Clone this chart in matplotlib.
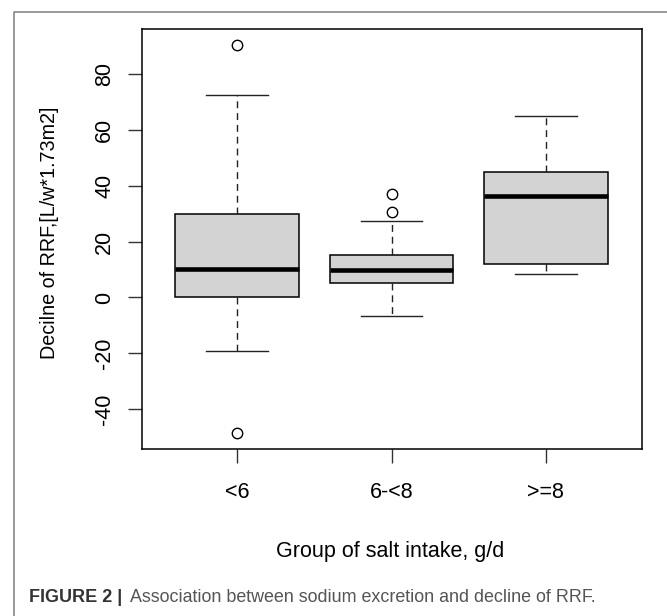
import matplotlib
matplotlib.use('Agg')
import matplotlib.pyplot as plt
from matplotlib.lines import Line2D

plt.rcParams['font.family'] = ['Liberation Sans', 'DejaVu Sans']
plt.rcParams['axes.unicode_minus'] = False

# values
groups = ['<6', '6-<8', '>=8']
whislo = [-19.0, -6.8, 8.4]
q1 = [0.3, 5.35, 11.8]
medians = [10.0, 9.75, 36.1]
q3 = [30.0, 15.1, 44.9]
whishi = [72.4, 27.2, 64.9]
fliers = [[90.4, -48.6], [30.6, 36.9], []]
yticks = [-40, -20, 0, 20, 40, 60, 80]

stats = []
for i in range(len(groups)):
    stats.append(dict(label=groups[i], whislo=whislo[i], q1=q1[i], med=medians[i],
                      q3=q3[i], whishi=whishi[i], fliers=fliers[i]))

fig = plt.figure(figsize=(6.67, 6.16), dpi=100)
W, H = 667, 616
ax = fig.add_axes([141.5 / W, 1 - 449 / H, 500 / W, 420 / H])

ax.bxp(stats, positions=[1, 2, 3], widths=0.8, patch_artist=True,
       boxprops=dict(facecolor='#d3d3d3', edgecolor='black', linewidth=1.1),
       medianprops=dict(color='black', linewidth=3.3, solid_capstyle='butt'),
       whiskerprops=dict(color='#222222', linewidth=1.0, linestyle=(0, (5, 3.5))),
       capprops=dict(color='#222222', linewidth=1.0),
       capwidths=0.4,
       flierprops=dict(marker='o', markerfacecolor='none', markeredgecolor='black',
                       markersize=7.5, markeredgewidth=1.0))

ax.set_xlim(0.38, 3.62)
lo = min(min(whislo), min(min(f) for f in fliers if f))
hi = max(max(whishi), max(max(f) for f in fliers if f))
pad = (hi - lo) * 0.04
ax.set_ylim(lo - pad, hi + pad)
ax.set_yticks(yticks)
ax.set_xticks([1, 2, 3])
ax.set_xticklabels(groups)
for lab in ax.get_yticklabels():
    lab.set_rotation(90)
    lab.set_va('center')
ax.tick_params(axis='both', length=10, width=1.0, labelsize=15.5, color='#333333')
ax.tick_params(axis='y', pad=9)
ax.tick_params(axis='x', pad=14)
for s in ax.spines.values():
    s.set_linewidth(1.1)

fig.text(50 / W, 1 - 233 / H, 'Decilne of RRF,[L/w*1.73m2]', rotation=90,
         ha='center', va='center', fontsize=14.2)
fig.text(390 / W, 1 - 552 / H, 'Group of salt intake, g/d',
         ha='center', va='center', fontsize=15.5)

# caption
fig.text(29 / W, 1 - 597 / H, 'FIGURE 2 |', ha='left', va='center',
         fontsize=13, fontweight='bold', color='#333333')
fig.text(130 / W, 1 - 597 / H, 'Association between sodium excretion and decline of RRF.',
         ha='left', va='center', fontsize=12.9, color='#555555')

# outer frame
fig.add_artist(Line2D([14 / W, 14 / W, 1], [0, 1 - 12 / H, 1 - 12 / H],
                      transform=fig.transFigure, color='#888888', linewidth=1.2))

fig.savefig('out.png', dpi=100)
